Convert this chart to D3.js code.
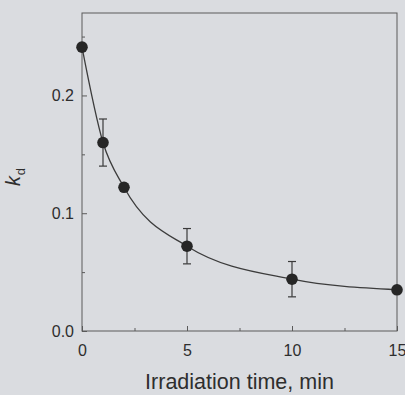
<!DOCTYPE html>
<html>
<head>
<meta charset="utf-8">
<script src="https://cdn.jsdelivr.net/npm/d3@7"></script>
<style>
  html, body { margin: 0; padding: 0; background: #dadce0; }
  svg { display: block; }
  text { font-family: "Liberation Sans", Arial, sans-serif; fill: #2e2e2e; }
</style>
</head>
<body>
<svg id="chart" width="405" height="395"></svg>
<script>
// Irradiation time (min) and measured k_d with error bar half-widths
const times  = [0, 1, 2, 5, 10, 15];
const kd     = [0.241, 0.160, 0.122, 0.072, 0.044, 0.035];
const kdErr  = [0, 0.020, 0, 0.015, 0.015, 0];

const xMajorTicks = [0, 5, 10, 15];
const xMinorTicks = [2.5, 7.5, 12.5];
const yMajorTicks = [0.0, 0.1, 0.2];
const yMinorTicks = [0.05, 0.15, 0.25];

const svg = d3.select("#chart");
const W = 405, H = 395;
const m = { left: 82, right: 8, top: 13, bottom: 64 };

const x = d3.scaleLinear().domain([0, 15]).range([m.left, W - m.right]);
const y = d3.scaleLinear().domain([0, 0.27]).range([H - m.bottom, m.top]);

const axisColor = "#5a5a5a";
const g = svg.append("g");

// plot frame
g.append("rect")
  .attr("x", x(0)).attr("y", y(0.27))
  .attr("width", x(15) - x(0)).attr("height", y(0) - y(0.27))
  .attr("fill", "none").attr("stroke", axisColor).attr("stroke-width", 1);

// inward ticks on the bottom axis
const xAxis = d3.axisBottom(x).tickValues(xMajorTicks).tickSizeInner(-5).tickSizeOuter(0)
  .tickPadding(14).tickFormat(d3.format("d"));
const gx = g.append("g").attr("transform", `translate(0,${y(0)})`).call(xAxis);
const xMinor = d3.axisBottom(x).tickValues(xMinorTicks).tickSizeInner(-3).tickSizeOuter(0).tickFormat("");
const gxm = g.append("g").attr("transform", `translate(0,${y(0)})`).call(xMinor);

// inward ticks on the left axis
const yAxis = d3.axisLeft(y).tickValues(yMajorTicks).tickSizeInner(-5).tickSizeOuter(0)
  .tickPadding(8).tickFormat(d3.format(".1f"));
const gy = g.append("g").attr("transform", `translate(${x(0)},0)`).call(yAxis);
const yMinor = d3.axisLeft(y).tickValues(yMinorTicks).tickSizeInner(-3).tickSizeOuter(0).tickFormat("");
const gym = g.append("g").attr("transform", `translate(${x(0)},0)`).call(yMinor);

[gx, gxm, gy, gym].forEach(a => {
  a.select(".domain").remove();
  a.selectAll(".tick line").attr("stroke", axisColor);
  a.selectAll("text").attr("font-size", 16).attr("fill", "#333")
    .attr("font-family", "'Liberation Sans', Arial, sans-serif");
});

// smooth decay curve through the measurements
const pts = times.map((t, i) => ({ t, v: kd[i], e: kdErr[i] }));
const line = d3.line().x(d => x(d.t)).y(d => y(d.v)).curve(d3.curveMonotoneX);
g.append("path").datum(pts)
  .attr("d", line).attr("fill", "none")
  .attr("stroke", "#3c3c3c").attr("stroke-width", 1.3);

// error bars
const eb = g.append("g").selectAll("g").data(pts.filter(d => d.e > 0)).join("g")
  .attr("stroke", "#3a3a3a").attr("stroke-width", 1.2);
eb.append("line")
  .attr("x1", d => x(d.t)).attr("x2", d => x(d.t))
  .attr("y1", d => y(d.v + d.e)).attr("y2", d => y(d.v - d.e));
eb.append("line")
  .attr("x1", d => x(d.t) - 4).attr("x2", d => x(d.t) + 4)
  .attr("y1", d => y(d.v + d.e)).attr("y2", d => y(d.v + d.e));
eb.append("line")
  .attr("x1", d => x(d.t) - 4).attr("x2", d => x(d.t) + 4)
  .attr("y1", d => y(d.v - d.e)).attr("y2", d => y(d.v - d.e));

// data markers
g.append("g").selectAll("circle").data(pts).join("circle")
  .attr("cx", d => x(d.t)).attr("cy", d => y(d.v)).attr("r", 5.8)
  .attr("fill", "#262626");

// axis titles
svg.append("text")
  .attr("x", (x(0) + x(15)) / 2).attr("y", 389)
  .attr("text-anchor", "middle").attr("font-size", 21.5)
  .text("Irradiation time, min");

const yl = svg.append("text")
  .attr("transform", "translate(20,177) rotate(-90)")
  .attr("text-anchor", "middle");
yl.append("tspan").attr("font-size", 20).attr("font-style", "italic").text("k");
yl.append("tspan").attr("font-size", 13).attr("dy", 5).attr("dx", 1).text("d");
</script>
</body>
</html>
